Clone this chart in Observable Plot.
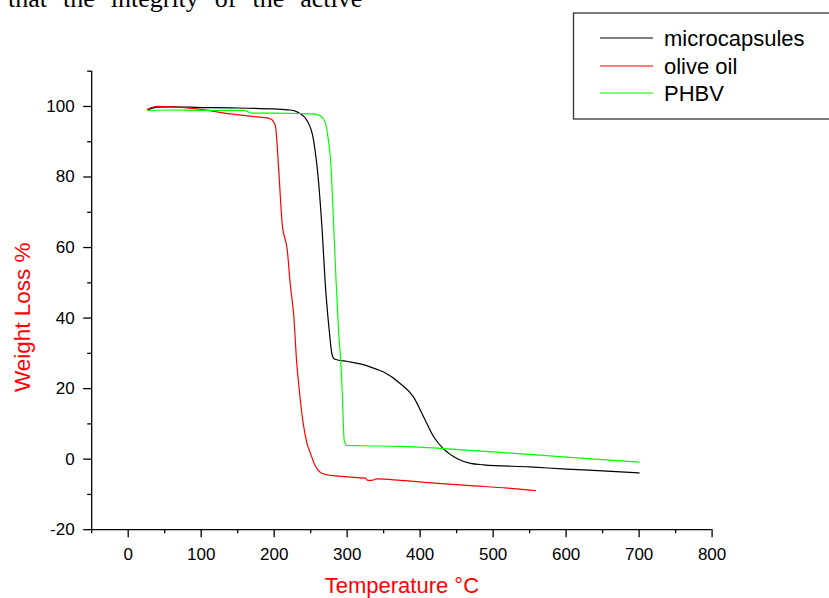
<!DOCTYPE html>
<html>
<head>
<meta charset="utf-8">
<script src="https://cdn.jsdelivr.net/npm/d3@7"></script>
<script src="https://cdn.jsdelivr.net/npm/@observablehq/plot@0.6"></script>
<style>
  html, body { margin: 0; padding: 0; background: #fff; width: 829px; height: 598px; overflow: hidden; }
  #wrap { position: relative; width: 829px; height: 598px; }
  #chart { position: absolute; left: 0; top: 0; }
  #overlay { position: absolute; left: 0; top: 0; pointer-events: none; }
</style>
</head>
<body>
<div id="wrap">
  <div id="chart"></div>
  <svg id="overlay" width="829" height="130"></svg>
</div>
<script>
// ---- data ----
const seriesNames = ["microcapsules", "olive oil", "PHBV"];
const seriesColors = ["#000000", "#ff0000", "#00ff00"];

const microT = [27, 40, 60, 100, 140, 200, 222, 232, 245, 254, 261, 266, 270, 275, 279, 282, 286, 300, 318, 335, 350, 373, 391, 405, 419, 432, 451, 469, 487, 550, 600, 650, 700];
const microW = [99.1, 99.8, 99.9, 99.7, 99.6, 99.3, 99.0, 98.4, 96.0, 90.4, 78.2, 64.0, 49.7, 37.4, 30.0, 28.5, 28.2, 27.7, 27.0, 25.9, 24.7, 21.4, 17.6, 11.9, 6.2, 2.9, 0.1, -1.2, -1.6, -2.2, -2.8, -3.3, -3.9];

const oilT = [27, 40, 60, 95, 140, 170, 195, 199.5, 202, 206, 211, 218, 222, 227, 230.5, 234, 240.6, 245, 250, 256, 263, 270, 277, 300, 318, 325, 328, 334, 338, 341, 373, 420, 469, 520, 558];
const oilW = [99.3, 100, 99.9, 99.3, 97.9, 97.2, 96.5, 95.5, 94.1, 82.8, 66.7, 59.2, 49.7, 40.3, 28.5, 20.4, 9.1, 4.5, 1.5, -1.8, -3.7, -4.3, -4.6, -5.0, -5.3, -5.4, -6.0, -6.0, -5.7, -5.6, -6.0, -6.8, -7.5, -8.2, -8.9];

const phbvT = [27, 60, 100, 158, 170, 200, 250, 259, 263, 270, 273, 278, 282, 285, 288.5, 291, 293, 296, 299, 320, 373, 469, 524, 600, 700];
const phbvW = [98.9, 99.0, 98.9, 98.9, 98.1, 98.1, 97.9, 97.7, 97.4, 95.5, 92.3, 82.5, 63.9, 49.7, 35.6, 28.5, 20.4, 5.3, 3.9, 3.8, 3.6, 2.5, 1.7, 0.6, -0.85];

const xTicks = [0, 100, 200, 300, 400, 500, 600, 700, 800];
const xMinorTicks = [-50, 50, 150, 250, 350, 450, 550, 650, 750];
const yTicks = [-20, 0, 20, 40, 60, 80, 100];
const yMinorTicks = [-10, 10, 30, 50, 70, 90, 110];

const xLabel = "Temperature °C";
const yLabel = "Weight Loss %";
const topLine = "that the integrity of the active";

// ---- build table ----
const seriesData = [
  {name: seriesNames[0], T: microT, W: microW},
  {name: seriesNames[1], T: oilT, W: oilW},
  {name: seriesNames[2], T: phbvT, W: phbvW}
];
const rows = seriesData.flatMap(s => s.T.map((t, i) => ({series: s.name, T: t, W: s.W[i]})));

const font = "'Liberation Sans', Arial, Helvetica, sans-serif";

const chart = Plot.plot({
  width: 829,
  height: 598,
  marginLeft: 91.2,
  marginRight: 117.4,
  marginTop: 70.7,
  marginBottom: 68.8,
  style: {fontFamily: font, fontSize: "17px", background: "white", color: "black", overflow: "visible"},
  x: {domain: [-50, 800]},
  y: {domain: [-20, 110]},
  color: {domain: seriesNames, range: seriesColors},
  marks: [
    Plot.axisX({ticks: xTicks, tickSize: 8, tickPadding: 10.5, fontSize: 17, label: null, tickFormat: d => String(d), strokeWidth: 1.3}),
    Plot.axisX({ticks: xMinorTicks, tickSize: 4, fill: "none", label: null, strokeWidth: 1.3}),
    Plot.axisY({ticks: yTicks, tickSize: 8, tickPadding: 9, fontSize: 17, label: null, tickFormat: d => String(d), strokeWidth: 1.3}),
    Plot.axisY({ticks: yMinorTicks, tickSize: 4, fill: "none", label: null, strokeWidth: 1.3}),
    Plot.ruleY([-20], {stroke: "black", strokeWidth: 1.3}),
    Plot.ruleX([-50], {stroke: "black", strokeWidth: 1.3}),
    Plot.line(rows, {x: "T", y: "W", z: "series", stroke: "series", strokeWidth: 1.2, curve: "monotone-x"}),
    Plot.text([xLabel], {frameAnchor: "bottom", text: d => d, dy: 56.4, lineAnchor: "middle", textAnchor: "middle", fill: "#ff0000", fontSize: 22}),
    Plot.text([yLabel], {frameAnchor: "left", text: d => d, rotate: -90, dx: -69.4, dy: 16.8, lineAnchor: "middle", textAnchor: "middle", fill: "#ff0000", fontSize: 22.5})
  ]
});
document.getElementById("chart").appendChild(chart);

// ---- legend and cut-off text line above the figure ----
const ov = d3.select("#overlay");
ov.append("text")
  .attr("x", 8).attr("y", 7.3)
  .attr("font-family", "'Liberation Serif', 'Times New Roman', serif")
  .attr("font-size", 26)
  .attr("word-spacing", 9.5)
  .attr("fill", "#000")
  .text(topLine);

ov.append("rect")
  .attr("x", 573.5).attr("y", 13).attr("width", 300).attr("height", 106)
  .attr("fill", "white").attr("stroke", "#333").attr("stroke-width", 1.3);

const legendY = [38, 66, 93];
seriesNames.forEach((name, i) => {
  ov.append("line")
    .attr("x1", 600).attr("x2", 653).attr("y1", legendY[i]).attr("y2", legendY[i])
    .attr("stroke", seriesColors[i]).attr("stroke-width", 1.2);
  ov.append("text")
    .attr("x", 664).attr("y", legendY[i] + 7.6)
    .attr("font-family", font).attr("font-size", 22)
    .attr("fill", "#000")
    .text(name);
});
</script>
</body>
</html>
